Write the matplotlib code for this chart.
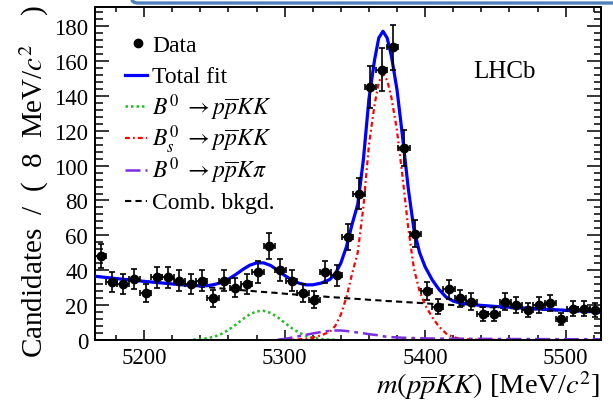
import numpy as np
import matplotlib
matplotlib.use("Agg")
import matplotlib.pyplot as plt
from matplotlib.patches import FancyBboxPatch

plt.rcParams['font.family'] = ['Liberation Serif', 'DejaVu Serif']
plt.rcParams['mathtext.fontset'] = 'stix'

# data: bin centres (8 MeV bins) and candidates per bin
mass = np.arange(5169, 5525, 8)
counts = [48, 33, 32, 35, 27, 36, 36, 34, 32, 34, 24, 34, 30, 32, 39,
          54, 40, 34, 27, 23, 39, 37, 59, 84, 145, 155, 168, 110, 61, 28,
          19, 29, 24, 22, 15, 15, 22, 20, 17, 20, 21, 12, 18, 18, 17]

# fit curves
m_fit = [5165, 5180, 5200, 5220, 5235, 5245, 5250, 5255, 5260, 5265, 5270,
         5275, 5280, 5285, 5290, 5295, 5300, 5305, 5310, 5315, 5320, 5326,
         5332, 5336, 5340, 5344, 5348, 5352, 5356, 5360, 5364, 5367, 5370,
         5373, 5376, 5380, 5384, 5388, 5392, 5396, 5400, 5405, 5410, 5415,
         5420, 5425, 5435, 5450, 5470, 5500, 5525]
comb = [36.5, 35.2, 33.6, 32.1, 30.9, 30.2, 29.9, 29.5, 29.2, 28.8, 28.5,
        28.2, 27.8, 27.5, 27.2, 26.9, 26.5, 26.2, 25.9, 25.6, 25.3, 25.0,
        24.6, 24.4, 24.2, 23.9, 23.7, 23.5, 23.3, 23.0, 22.8, 22.7, 22.5,
        22.3, 22.2, 22.0, 21.8, 21.6, 21.4, 21.2, 21.0, 20.7, 20.5, 20.2,
        20.0, 19.8, 19.3, 18.6, 17.8, 16.6, 15.6]
b0_kk = [0, 0, 0, 0, 0.17, 0.93, 1.88, 3.44, 5.72, 8.61, 11.8,
         14.6, 16.4, 16.7, 15.5, 13.0, 9.87, 6.81, 4.26, 2.42, 1.25, 0.49,
         0.17, 0.08, 0, 0, 0, 0, 0, 0, 0, 0, 0,
         0, 0, 0, 0, 0, 0, 0, 0, 0, 0, 0,
         0, 0, 0, 0, 0, 0, 0]
bs_kk = [0, 0, 0, 0, 0, 0, 0, 0, 0, 0, 0,
         0, 0, 0, 0, 0, 0.05, 0.1, 0.3, 0.7, 1.3, 2.6,
         4.6, 8.0, 14.5, 24.5, 38, 50, 76, 112, 135, 148, 152.5,
         149, 139, 120, 93, 64, 41, 28, 20, 13, 7.5, 3.6,
         1.6, 0.6, 0.2, 0.05, 0, 0, 0]
b0_kpi = [0, 0, 0, 0, 0, 0, 0, 0, 0, 0, 0,
          0, 0, 0, 0, 0.1, 0.6, 1.3, 2.1, 2.9, 3.7, 4.5,
          5.2, 5.4, 5.4, 5.1, 4.7, 4.2, 3.8, 3.3, 2.9, 2.6, 2.1,
          1.8, 1.6, 1.4, 1.25, 1.15, 1.05, 1.0, 0.85, 0.8, 0.75, 0.72,
          0.7, 0.67, 0.62, 0.55, 0.48, 0.4, 0.35]
total = [36.5, 35.2, 33.6, 32.1, 31.1, 31.1, 31.8, 32.9, 34.9, 37.4, 40.3,
         42.8, 44.2, 44.2, 42.7, 40.0, 37.0, 34.4, 32.6, 31.6, 31.6, 32.6,
         34.6, 37.9, 44.1, 53.5, 66.4, 77.7, 103.1, 138.3, 160.7, 173.3, 177.1,
         173.2, 162.8, 143.4, 116.1, 86.8, 63.5, 50.2, 41.9, 34.5, 28.8, 24.5,
         22.3, 21.1, 20.1, 19.2, 18.3, 17.0, 16.0]

legend_labels = ['Data', 'Total fit',
                 r'$B^0\ \rightarrow p\overline{p}KK$',
                 r'$B^0_s\ \rightarrow p\overline{p}KK$',
                 r'$B^0\ \rightarrow p\overline{p}K\pi$',
                 'Comb. bkgd.']

m_fit = np.array(m_fit)
b0_kk = np.array(b0_kk)
bs_kk = np.array(bs_kk)
b0_kpi = np.array(b0_kpi)

# line styles: (colour, dash pattern, width)
sty_total = dict(color='#0000ff', ls='-', lw=2.3)
sty_b0 = dict(color='#22bb22', ls=(0, (1, 1.2)), lw=1.8)
sty_bs = dict(color='red', ls=(0, (2.2, 1.4, 0.8, 1.4)), lw=1.6)
sty_kpi = dict(color='#7a2fe0', ls=(0, (6, 2, 1.5, 2)), lw=1.8)
sty_comb = dict(color='k', ls=(0, (3, 2)), lw=1.5)

fig = plt.figure(figsize=(6.13, 4.02), dpi=100)
ax = fig.add_axes([0.155, 0.152, 0.825, 0.828])

ax.plot(m_fit, comb, zorder=2, **sty_comb)
s = b0_kk > 0
ax.plot(m_fit[s], b0_kk[s], zorder=2, **sty_b0)
s = bs_kk > 0
ax.plot(m_fit[s], bs_kk[s], zorder=2, **sty_bs)
s = b0_kpi > 0
ax.plot(m_fit[s], b0_kpi[s], zorder=2, **sty_kpi)
ax.plot(m_fit, total, zorder=3, **sty_total)

ax.errorbar(mass, counts, yerr=np.sqrt(counts), xerr=4, fmt='o', color='k',
            ms=6, elinewidth=1.2, capsize=2, capthick=1.2, zorder=4)

ax.set_xlim(5165, 5525)
ax.set_ylim(0, 191)
ax.set_xticks([5200, 5300, 5400, 5500])
ax.set_xticks(np.arange(5180, 5525, 20), minor=True)
ax.set_yticks(np.arange(0, 181, 20))
ax.set_yticks(np.arange(0, 191, 4), minor=True)
ax.tick_params(which='both', direction='in', top=True, right=True,
               labelsize=16.5, width=1.1, pad=5)
ax.tick_params(axis='x', which='major', length=7.2)
ax.tick_params(axis='x', which='minor', length=3.6)
ax.tick_params(axis='y', which='major', length=10.4)
ax.tick_params(axis='y', which='minor', length=5.4)
for sp in ax.spines.values():
    sp.set_linewidth(1.4)

ax.set_xlabel(r'$m(p\overline{p}KK)$ [MeV/$c^2$]', fontsize=20.5, loc='right')
ax.xaxis.set_label_coords(1.0, -0.085)
ax.set_ylabel(r'Candidates  /  (  8  MeV/$c^{2}\quad$ )', fontsize=21, loc='top')
ax.yaxis.set_label_coords(-0.088, 1.01)

ax.text(0.81, 0.808, 'LHCb', transform=ax.transAxes, fontsize=18,
        ha='center', va='center')

# legend drawn row by row so the rows are evenly spaced like the original
row_y = 0.891 - 0.0948 * np.arange(6)
styles = [None, sty_total, sty_b0, sty_bs, sty_kpi, sty_comb]
for y, sty, lab in zip(row_y, styles, legend_labels):
    if sty is None:
        ax.plot([0.085], [y], 'o', color='k', ms=6, transform=ax.transAxes)
    else:
        ax.plot([0.059, 0.103], [y, y], transform=ax.transAxes, **sty)
    ax.text(0.113, y - 0.022, lab, transform=ax.transAxes, fontsize=17,
            ha='left', va='baseline')

# blue frame edge at the top of the picture
box = FancyBboxPatch((132 / 613, 0.99), 0.8, 0.2, transform=fig.transFigure,
                     boxstyle='round,pad=0,rounding_size=0.01',
                     facecolor='white', edgecolor='#4f81bd', lw=2.4)
fig.patches.append(box)

fig.savefig('out.png', dpi=100)
